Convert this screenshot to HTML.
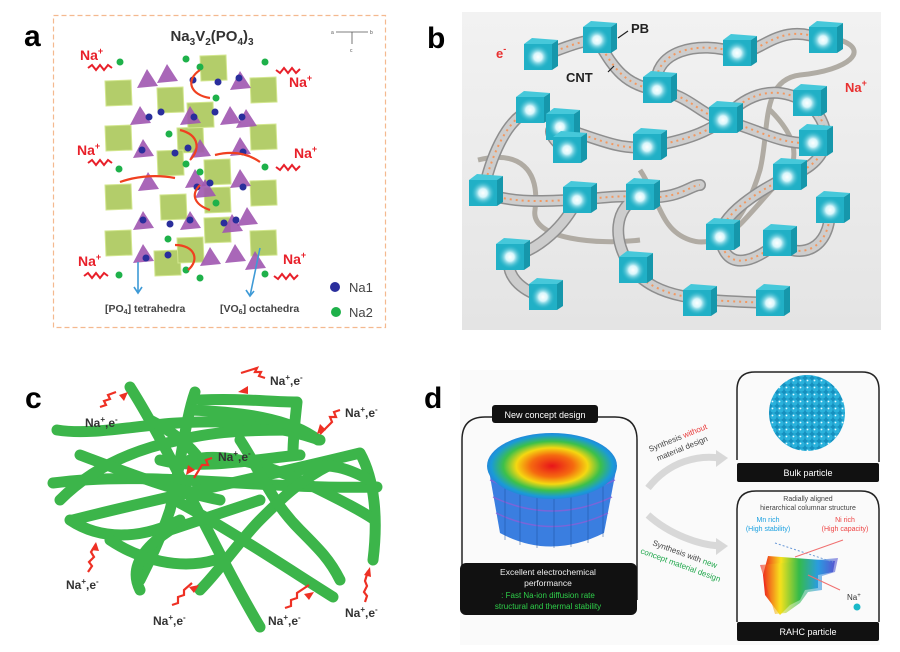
<!DOCTYPE html>
<html><head><meta charset="utf-8"><style>
html,body{margin:0;padding:0;background:#fff;}
svg{display:block;font-family:"Liberation Sans",sans-serif;}
</style></head><body>
<svg width="900" height="652" viewBox="0 0 900 652" xmlns="http://www.w3.org/2000/svg">
<defs>
<radialGradient id="glow"><stop offset="0" stop-color="#fff"/><stop offset="0.35" stop-color="#d8f6fb"/><stop offset="1" stop-color="#27b3c9" stop-opacity="0"/></radialGradient>
<linearGradient id="bgb" x1="0" y1="0" x2="0" y2="1"><stop offset="0" stop-color="#f2f2f2"/><stop offset="1" stop-color="#e4e4e4"/></linearGradient>
<radialGradient id="top" cx="0.5" cy="0.5" r="0.55"><stop offset="0" stop-color="#e8141a"/><stop offset="0.3" stop-color="#f56a10"/><stop offset="0.5" stop-color="#f5d811"/><stop offset="0.68" stop-color="#3cc04a"/><stop offset="0.85" stop-color="#1a9ad8"/><stop offset="1" stop-color="#2f6fd8"/></radialGradient>
<linearGradient id="fan" x1="0" y1="0" x2="1" y2="0"><stop offset="0" stop-color="#ee1c1c"/><stop offset="0.25" stop-color="#f7e21c"/><stop offset="0.5" stop-color="#35bb4a"/><stop offset="0.75" stop-color="#2a9ce0"/><stop offset="1" stop-color="#5b4fd0"/></linearGradient>
<pattern id="balls" width="7" height="7" patternUnits="userSpaceOnUse"><rect width="7" height="7" fill="#1690bf"/><circle cx="3.5" cy="3.5" r="3.2" fill="#2ab2dc"/><circle cx="2.5" cy="2.5" r="0.9" fill="#e8fbff"/></pattern>
<g id="cube"><rect x="-14" y="-13" width="28" height="26" fill="#21b0c6"/><path d="M-14,-13 L-6,-19 L20,-17 L14,-13 Z" fill="#46c8da"/><path d="M14,-13 L20,-17 L20,9 L14,13Z" fill="#1697ab"/><circle r="12" fill="url(#glow)"/></g>
<polygon id="oct" points="-13,-12 13,-13 14,12 -12,13" fill="#b3cd6a" stroke="#d2e68e" stroke-width="1"/>
<polygon id="tri" points="-10,8 0,-11 11,6" fill="#a056b0" opacity="0.9"/>
</defs>

<!-- ===== Panel a ===== -->
<text x="24" y="46" font-size="30" font-weight="bold">a</text>
<rect x="53.5" y="15.5" width="332" height="312" fill="none" stroke="#f4b98f" stroke-width="1.2" stroke-dasharray="5,3"/>
<text x="212" y="41" font-size="15" font-weight="bold" text-anchor="middle" fill="#333">Na<tspan font-size="10" dy="4">3</tspan><tspan dy="-4">V</tspan><tspan font-size="10" dy="4">2</tspan><tspan dy="-4">(PO</tspan><tspan font-size="10" dy="4">4</tspan><tspan dy="-4">)</tspan><tspan font-size="10" dy="4">3</tspan></text>
<g stroke="#555" stroke-width="0.8" fill="none"><path d="M336,32 H368 M352,32 V44"/></g>
<text x="331" y="34" font-size="5" fill="#555">a</text><text x="370" y="34" font-size="5" fill="#555">b</text><text x="350" y="52" font-size="5" fill="#555">c</text>
<g>
<use href="#oct" x="118" y="93"/><use href="#oct" x="170" y="100"/><use href="#oct" x="213" y="68"/><use href="#oct" x="263" y="90"/>
<use href="#oct" x="118" y="138"/><use href="#oct" x="190" y="140"/><use href="#oct" x="263" y="137"/><use href="#oct" x="170" y="163"/>
<use href="#oct" x="217" y="172"/><use href="#oct" x="118" y="197"/><use href="#oct" x="173" y="207"/><use href="#oct" x="263" y="193"/>
<use href="#oct" x="217" y="200"/><use href="#oct" x="118" y="243"/><use href="#oct" x="217" y="230"/><use href="#oct" x="263" y="243"/>
<use href="#oct" x="167" y="263"/><use href="#oct" x="190" y="250"/><use href="#oct" x="200" y="115"/>
<use href="#tri" x="147" y="80"/><use href="#tri" x="167" y="75"/><use href="#tri" x="240" y="82"/><use href="#tri" x="140" y="117"/>
<use href="#tri" x="190" y="117"/><use href="#tri" x="230" y="117"/><use href="#tri" x="246" y="120"/><use href="#tri" x="143" y="150"/>
<use href="#tri" x="240" y="148"/><use href="#tri" x="148" y="183"/><use href="#tri" x="195" y="180"/><use href="#tri" x="240" y="180"/>
<use href="#tri" x="143" y="222"/><use href="#tri" x="190" y="222"/><use href="#tri" x="232" y="225"/><use href="#tri" x="247" y="218"/>
<use href="#tri" x="143" y="255"/><use href="#tri" x="210" y="258"/><use href="#tri" x="235" y="255"/><use href="#tri" x="255" y="262"/>
<use href="#tri" x="200" y="150"/><use href="#tri" x="205" y="190"/>
</g>
<g fill="#2a2e9c">
<circle cx="193" cy="80" r="3.5"/><circle cx="218" cy="82" r="3.5"/><circle cx="239" cy="78" r="3.5"/><circle cx="149" cy="117" r="3.5"/><circle cx="161" cy="112" r="3.5"/><circle cx="194" cy="117" r="3.5"/><circle cx="215" cy="112" r="3.5"/><circle cx="242" cy="117" r="3.5"/>
<circle cx="142" cy="150" r="3.5"/><circle cx="175" cy="153" r="3.5"/><circle cx="188" cy="148" r="3.5"/><circle cx="243" cy="152" r="3.5"/>
<circle cx="197" cy="187" r="3.5"/><circle cx="210" cy="183" r="3.5"/><circle cx="243" cy="187" r="3.5"/><circle cx="143" cy="220" r="3.5"/><circle cx="170" cy="224" r="3.5"/><circle cx="190" cy="220" r="3.5"/><circle cx="224" cy="223" r="3.5"/><circle cx="236" cy="220" r="3.5"/><circle cx="146" cy="258" r="3.5"/><circle cx="168" cy="255" r="3.5"/>
</g>
<g fill="#1eb14a">
<circle cx="120" cy="62" r="3.5"/><circle cx="186" cy="59" r="3.5"/><circle cx="200" cy="67" r="3.5"/><circle cx="265" cy="62" r="3.5"/><circle cx="216" cy="98" r="3.5"/><circle cx="169" cy="134" r="3.5"/>
<circle cx="186" cy="164" r="3.5"/><circle cx="200" cy="172" r="3.5"/><circle cx="119" cy="169" r="3.5"/><circle cx="265" cy="167" r="3.5"/><circle cx="216" cy="203" r="3.5"/>
<circle cx="168" cy="239" r="3.5"/><circle cx="186" cy="270" r="3.5"/><circle cx="200" cy="278" r="3.5"/><circle cx="119" cy="275" r="3.5"/><circle cx="265" cy="274" r="3.5"/>
</g>
<g fill="none" stroke="#f04020" stroke-width="2.2">
<path d="M200,70 C185,80 190,95 210,98"/><path d="M180,130 C200,135 200,150 190,160"/><path d="M200,185 C190,195 195,205 210,210"/><path d="M175,245 C195,245 200,260 188,270"/>
<path d="M120,182 C140,175 160,175 175,178"/><path d="M215,155 C235,150 250,155 260,162"/>
</g>
<g fill="none" stroke="#e8202a" stroke-width="2"><path d="M88,68 l4,-3 4,5 4,-5 4,5 4,-5 4,3"/><path d="M276,70 l4,3 4,-5 4,5 4,-5 4,5 4,-4"/><path d="M88,163 l4,-3 4,5 4,-5 4,5 4,-5 4,3"/><path d="M276,167 l4,3 4,-5 4,5 4,-5 4,5 4,-4"/><path d="M84,276 l4,-3 4,5 4,-5 4,5 4,-5 4,3"/><path d="M274,276 l4,3 4,-5 4,5 4,-5 4,5 4,-4"/></g>
<g font-size="14" font-weight="bold" fill="#e8202a">
<text x="80" y="60">Na<tspan font-size="9" dy="-6">+</tspan></text><text x="289" y="87">Na<tspan font-size="9" dy="-6">+</tspan></text>
<text x="77" y="155">Na<tspan font-size="9" dy="-6">+</tspan></text><text x="294" y="158">Na<tspan font-size="9" dy="-6">+</tspan></text>
<text x="78" y="266">Na<tspan font-size="9" dy="-6">+</tspan></text><text x="283" y="264">Na<tspan font-size="9" dy="-6">+</tspan></text>
</g>
<g stroke="#3e9ad6" stroke-width="1.6" fill="none"><path d="M138,262 V292 M134,287 l4,6 4,-6"/><path d="M260,248 L250,296 M246,290 l4,6 4,-5"/></g>
<g font-size="10.5" font-weight="bold" fill="#444"><text x="105" y="312">[PO<tspan font-size="7" dy="2">4</tspan><tspan dy="-2">] tetrahedra</tspan></text><text x="220" y="312">[VO<tspan font-size="7" dy="2">6</tspan><tspan dy="-2">] octahedra</tspan></text></g>
<circle cx="335" cy="287" r="5" fill="#2a2e9c"/><circle cx="336" cy="312" r="5" fill="#1eb14a"/>
<g font-size="13" fill="#444"><text x="349" y="292">Na1</text><text x="349" y="317">Na2</text></g>

<!-- ===== Panel b ===== -->
<text x="427" y="48" font-size="30" font-weight="bold">b</text>
<rect x="462" y="12" width="419" height="318" fill="url(#bgb)"/>
<g fill="none" stroke="#aaa59c" stroke-width="5" opacity="0.9">
<path d="M478,160 C520,150 540,170 535,210 C530,240 600,245 640,240"/><path d="M840,40 C870,50 850,70 800,75 C760,80 770,130 760,170 C745,220 720,250 690,240 C660,230 660,200 640,170"/>
<path d="M770,110 C790,130 800,150 790,170 C760,200 740,230 720,240"/>
</g>
<g id="tubes" fill="none" stroke-linecap="round">
<path d="M538,57 C560,50 580,40 597,40 C610,60 620,85 657,90 C690,95 700,115 723,120 C760,130 780,145 813,143"/>
<path d="M657,90 C650,50 700,40 737,53 C760,55 780,20 823,40"/>
<path d="M530,110 C505,120 490,160 483,193 C520,205 550,200 577,200 C600,198 620,195 640,197 C680,200 690,185 700,185"/>
<path d="M560,127 C600,140 620,150 647,147 C690,140 710,130 723,120 C740,100 770,80 807,103 C830,120 840,160 787,177 C760,190 720,215 720,237 C725,270 750,265 777,243 C800,260 830,250 830,210"/>
<path d="M510,257 C540,250 565,225 577,200"/><path d="M633,270 C610,240 615,205 640,197"/><path d="M543,297 C520,290 505,275 510,257"/><path d="M633,270 C660,300 700,300 770,303"/><path d="M567,150 C550,140 545,125 560,127"/>
</g>
<use href="#tubes" stroke="#8e8e8e" stroke-width="12"/>
<use href="#tubes" stroke="#cdcdcd" stroke-width="9"/>
<g fill="none" stroke="#f29860" stroke-width="2" stroke-dasharray="2,4">
<path d="M538,57 C560,50 580,40 597,40 C610,60 620,85 657,90 C690,95 700,115 723,120 C760,130 780,145 813,143"/>
<path d="M657,90 C650,50 700,40 737,53 C760,55 780,20 823,40"/>
<path d="M530,110 C505,120 490,160 483,193 C520,205 550,200 577,200 C600,198 620,195 640,197 C680,200 690,185 700,185"/>
<path d="M560,127 C600,140 620,150 647,147 C690,140 710,130 723,120 C740,100 770,80 807,103 C830,120 840,160 787,177 C760,190 720,215 720,237 C725,270 750,265 777,243 C800,260 830,250 830,210"/>
<path d="M633,270 C660,300 700,300 770,303"/>
</g>
<g>
<use href="#cube" x="538" y="57"/><use href="#cube" x="597" y="40"/><use href="#cube" x="737" y="53"/><use href="#cube" x="823" y="40"/>
<use href="#cube" x="657" y="90"/><use href="#cube" x="530" y="110"/><use href="#cube" x="560" y="127"/><use href="#cube" x="567" y="150"/>
<use href="#cube" x="647" y="147"/><use href="#cube" x="723" y="120"/><use href="#cube" x="807" y="103"/><use href="#cube" x="813" y="143"/>
<use href="#cube" x="483" y="193"/><use href="#cube" x="577" y="200"/><use href="#cube" x="640" y="197"/><use href="#cube" x="787" y="177"/>
<use href="#cube" x="830" y="210"/><use href="#cube" x="720" y="237"/><use href="#cube" x="777" y="243"/><use href="#cube" x="510" y="257"/>
<use href="#cube" x="633" y="270"/><use href="#cube" x="543" y="297"/><use href="#cube" x="697" y="303"/><use href="#cube" x="770" y="303"/>
</g>
<g stroke="#222" stroke-width="1.2"><path d="M618,38 L628,31"/><path d="M608,72 L614,66"/></g>
<text x="631" y="33" font-size="13" font-weight="bold" fill="#222">PB</text>
<text x="566" y="82" font-size="13" font-weight="bold" fill="#222">CNT</text>
<text x="496" y="58" font-size="13" font-weight="bold" fill="#e83030">e<tspan font-size="9" dy="-6">-</tspan></text>
<text x="845" y="92" font-size="13" font-weight="bold" fill="#e83030">Na<tspan font-size="9" dy="-6">+</tspan></text>

<!-- ===== Panel c ===== -->
<text x="25" y="408" font-size="30" font-weight="bold">c</text>
<g fill="none" stroke="#3cb54a" stroke-width="11" stroke-linecap="round" stroke-linejoin="round">
<path d="M130,387 C170,450 220,560 260,627"/>
<path d="M57,430 C120,440 200,400 320,440"/>
<path d="M53,483 C150,470 260,490 377,487"/>
<path d="M73,520 C150,500 250,480 360,453 C375,480 378,520 373,560"/>
<path d="M200,400 C240,398 270,402 297,402 C295,420 293,440 293,453"/>
<path d="M180,503 C230,530 290,570 333,597"/>
<path d="M195,392 C185,420 180,470 170,510 C160,540 150,560 140,580"/>
<path d="M140,590 C130,570 140,550 170,530 C200,520 230,510 260,500"/>
<path d="M60,500 C90,470 130,450 180,440 C220,430 260,430 300,430"/>
<path d="M70,520 C100,540 140,540 180,520"/>
<path d="M190,460 C230,450 280,470 320,490 C340,500 360,510 375,520"/>
<path d="M150,420 C170,430 190,445 200,460"/>
<path d="M200,590 C220,570 240,540 260,520 C280,500 300,480 330,465"/>
<path d="M190,410 C240,412 290,418 318,440"/>
<path d="M160,460 C200,470 250,460 300,455"/>
<path d="M80,455 C120,470 170,490 220,500"/>
<path d="M240,440 C260,470 270,500 300,530 C320,550 330,560 340,580"/>
<path d="M300,470 C330,460 350,470 370,480"/>
<path d="M110,540 C140,560 180,570 215,560"/>
</g>
<g fill="none" stroke="#ee3024" stroke-width="2.2"><path d="M100,407 l6,-2 -2,-4 6,-2 -2,-4 8,-3"/><path d="M265,378 l-6,-2 2,-4 -6,0 2,-4 -16,5"/><path d="M340,410 l-6,2 2,5 -6,0 2,5 -12,12"/><path d="M212,458 l-6,2 2,5 -6,0 -8,13"/><path d="M88,572 l4,-6 -3,-4 5,-5 -3,-5 5,-8"/><path d="M172,605 l6,-2 0,-6 6,-2 0,-5 8,-7"/><path d="M285,608 l6,-2 0,-6 6,-2 0,-5 12,-8"/><path d="M365,602 l2,-6 -3,-4 3,-6 -2,-5 3,-10"/></g>
<g fill="#ee3024"><path d="M128,392 l-9,3 5,6Z"/><path d="M238,392 l10,-6 0,8Z"/><path d="M317,434 l3,-10 6,6Z"/><path d="M186,475 l2,-10 7,5Z"/><path d="M96,542 l-5,8 8,1Z"/><path d="M199,585 l-10,2 5,6Z"/><path d="M314,592 l-10,2 5,6Z"/><path d="M370,567 l-6,8 7,2Z"/></g>
<g font-size="12" font-weight="bold" fill="#333">
<text x="270" y="385">Na<tspan font-size="8" dy="-5">+</tspan><tspan dy="5">,e</tspan><tspan font-size="8" dy="-5">-</tspan></text>
<text x="85" y="427">Na<tspan font-size="8" dy="-5">+</tspan><tspan dy="5">,e</tspan><tspan font-size="8" dy="-5">-</tspan></text>
<text x="345" y="417">Na<tspan font-size="8" dy="-5">+</tspan><tspan dy="5">,e</tspan><tspan font-size="8" dy="-5">-</tspan></text>
<text x="218" y="461">Na<tspan font-size="8" dy="-5">+</tspan><tspan dy="5">,e</tspan><tspan font-size="8" dy="-5">-</tspan></text>
<text x="66" y="589">Na<tspan font-size="8" dy="-5">+</tspan><tspan dy="5">,e</tspan><tspan font-size="8" dy="-5">-</tspan></text>
<text x="153" y="625">Na<tspan font-size="8" dy="-5">+</tspan><tspan dy="5">,e</tspan><tspan font-size="8" dy="-5">-</tspan></text>
<text x="268" y="625">Na<tspan font-size="8" dy="-5">+</tspan><tspan dy="5">,e</tspan><tspan font-size="8" dy="-5">-</tspan></text>
<text x="345" y="617">Na<tspan font-size="8" dy="-5">+</tspan><tspan dy="5">,e</tspan><tspan font-size="8" dy="-5">-</tspan></text>
</g>

<!-- ===== Panel d ===== -->
<text x="424" y="408" font-size="30" font-weight="bold">d</text>
<rect x="460" y="370" width="420" height="275" fill="#fafafa"/>
<path d="M462,600 V440 Q462,417 485,417 H492 M598,417 H615 Q637,417 637,440 V600" fill="none" stroke="#222" stroke-width="1.5"/>
<rect x="492" y="405" width="106" height="18" rx="3" fill="#111"/>
<text x="545" y="418" font-size="9" fill="#fff" text-anchor="middle">New concept design</text>
<path d="M488,465 L500,533 Q550,560 604,533 L617,465 Z" fill="#3a7ee0"/>
<g stroke="#8a5fd8" stroke-width="1.5" fill="none" opacity="0.8"><path d="M490,480 Q552,510 615,480"/><path d="M493,497 Q552,525 612,497"/><path d="M496,513 Q552,540 608,513"/></g>
<g stroke="#1d4f9a" stroke-width="0.8" opacity="0.6"><path d="M505,470 V540 M520,475 V545 M537,478 V548 M554,478 V548 M571,478 V547 M588,476 V543 M603,470 V537"/></g>
<ellipse cx="552" cy="466" rx="65" ry="33" fill="url(#top)"/>
<rect x="460" y="563" width="177" height="52" rx="6" fill="#111"/>
<text x="548" y="575" font-size="8.5" fill="#eee" text-anchor="middle">Excellent electrochemical</text>
<text x="548" y="586" font-size="8.5" fill="#eee" text-anchor="middle">performance</text>
<text x="548" y="598" font-size="8" fill="#2ed04a" text-anchor="middle">: Fast Na-ion diffusion rate</text>
<text x="548" y="609" font-size="8" fill="#2ed04a" text-anchor="middle">structural and thermal stability</text>
<path d="M648,488 C670,460 700,455 720,458" fill="none" stroke="#d8d8d8" stroke-width="7"/><path d="M716,450 L728,458 L716,467Z" fill="#d8d8d8"/>
<path d="M648,515 C670,535 700,545 720,546" fill="none" stroke="#d8d8d8" stroke-width="7"/><path d="M716,538 L728,546 L716,555Z" fill="#d8d8d8"/>
<text x="650" y="452" font-size="8" fill="#444" transform="rotate(-22 650 452)">Synthesis <tspan fill="#e83a3a">without</tspan></text>
<text x="658" y="461" font-size="8" fill="#444" transform="rotate(-22 658 461)">material design</text>
<text x="652" y="545" font-size="8" fill="#444" transform="rotate(20 652 545)">Synthesis with <tspan fill="#1ea64a">new</tspan></text>
<text x="640" y="553" font-size="8" fill="#1ea64a" transform="rotate(20 640 553)">concept material design</text>
<path d="M737,460 V390 Q737,372 755,372 H862 Q879,372 879,390 V462" fill="none" stroke="#222" stroke-width="1.5"/>
<circle cx="807" cy="413" r="38" fill="url(#balls)"/>
<rect x="737" y="463" width="142" height="19" rx="2" fill="#111"/>
<text x="808" y="476" font-size="9" fill="#fff" text-anchor="middle">Bulk particle</text>
<path d="M737,622 V510 Q737,491 756,491 H861 Q879,491 879,510 V622" fill="none" stroke="#222" stroke-width="1.5"/>
<text x="808" y="501" font-size="7" fill="#444" text-anchor="middle">Radially aligned</text>
<text x="808" y="510" font-size="7" fill="#444" text-anchor="middle">hierarchical columnar structure</text>
<text x="768" y="522" font-size="7" fill="#1aa0e0" text-anchor="middle">Mn rich</text><text x="768" y="531" font-size="7" fill="#1aa0e0" text-anchor="middle">(High stability)</text>
<text x="845" y="522" font-size="7" fill="#ee4444" text-anchor="middle">Ni rich</text><text x="845" y="531" font-size="7" fill="#ee4444" text-anchor="middle">(High capacity)</text>
<path d="M768,556 L835,561 L833,572 L818,575 L818,588 L805,590 L800,600 L790,605 L780,615 L765,595 L763,575 Z" fill="url(#fan)"/>
<path d="M760,565 L838,558 L835,572 L822,576 L822,590 L808,592 L800,603 L786,613 L775,614 Z" fill="url(#fan)" opacity="0.6"/>
<path d="M775,543 L833,562" stroke="#6b9ad8" stroke-width="1" stroke-dasharray="2,2" fill="none"/>
<path d="M843,540 L795,557" stroke="#f07070" stroke-width="1" fill="none"/>
<path d="M808,575 L840,590" stroke="#f07070" stroke-width="1" fill="none"/>
<text x="847" y="600" font-size="8" fill="#333">Na<tspan font-size="6" dy="-3">+</tspan></text>
<circle cx="857" cy="607" r="3.5" fill="#19b8c8"/>
<rect x="737" y="622" width="142" height="19" rx="2" fill="#111"/>
<text x="808" y="635" font-size="9" fill="#fff" text-anchor="middle">RAHC particle</text>
</svg>
</body></html>
